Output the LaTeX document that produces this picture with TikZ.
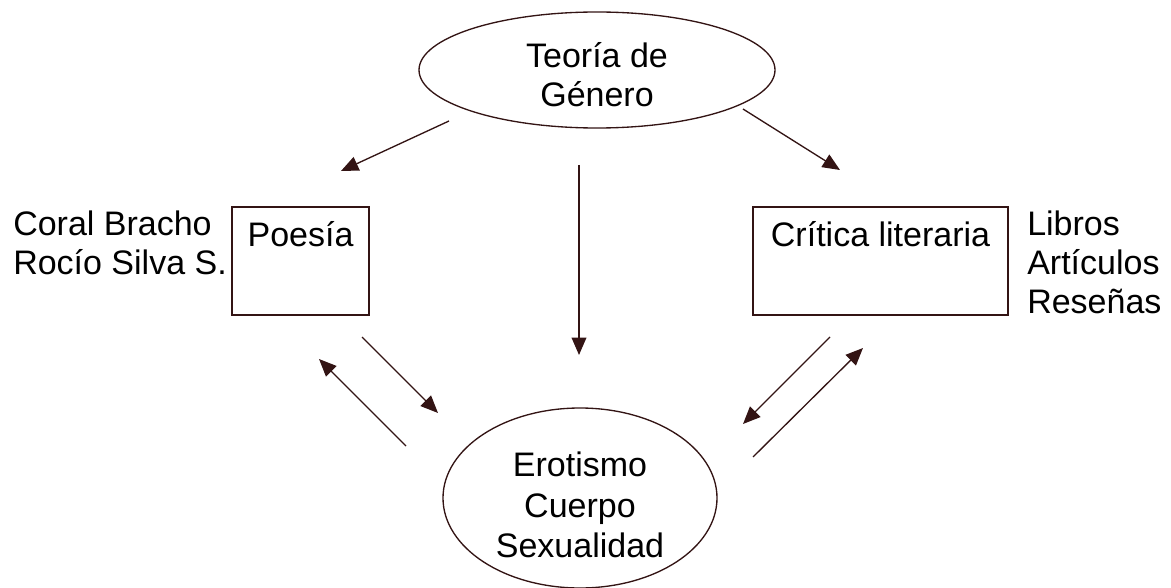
\documentclass[tikz,border=0pt]{standalone}
\usepackage{fontspec}
\setmainfont{Liberation Sans}
\usetikzlibrary{shapes.geometric, arrows.meta}
\definecolor{linebrown}{RGB}{51,20,20}
\tikzstyle{ovalo} = [ellipse, draw=linebrown, line width=1pt, inner sep=0pt]
\tikzstyle{caja} = [rectangle, draw=linebrown, line width=1pt, minimum height=81pt, inner sep=0pt]
\tikzstyle{texto} = [inner sep=0pt, anchor=base west]
\tikzstyle{titulo} = [inner sep=0pt, anchor=base]
\tikzstyle{bloque} = [inner sep=0pt, align=center]
\tikzstyle{arrow} = [line width=1pt, draw=linebrown, -{Triangle[length=13pt, width=11pt]}]

\begin{document}
\begin{tikzpicture}
[x=0.75pt, y=-0.75pt, font=\fontsize{25.5pt}{29.5pt}\selectfont]
\useasboundingbox (0,0) rectangle (1171,588);

\node (teoria) [ovalo, minimum width=267pt, minimum height=87pt] at (597,70) {};
\node (teoriatxt) [bloque] at (597,74.5) {Teoría de\\Género};
\node (poesia) [caja, minimum width=102.75pt] at (300.5,261) {};
\node (poesiatxt) [titulo] at (300.5,247) {Poesía};
\node (critica) [caja, minimum width=191.25pt] at (880.5,261) {};
\node (criticatxt) [titulo] at (880.5,247) {Crítica literaria};
\node (erotismo) [ovalo, minimum width=205.5pt, minimum height=135pt] at (580,498) {};
\node (erotismotxt) [bloque, font=\fontsize{25.5pt}{30.5pt}\selectfont] at (580,505) {Erotismo\\Cuerpo\\Sexualidad};

\node (coral) [texto] at (13,235) {Coral Bracho};
\node (rocio) [texto] at (13,274) {Rocío Silva S.};
\node (libros) [texto] at (1027,235) {Libros};
\node (articulos) [texto] at (1027,274) {Artículos};
\node (resenas) [texto] at (1027,313) {Reseñas};

% arrow ends
\coordinate (tl1) at (449,121);
\coordinate (tl2) at (341,171);
\coordinate (tr1) at (743,109);
\coordinate (tr2) at (840,170);
\coordinate (v1) at (579,165);
\coordinate (v2) at (579,355);
\coordinate (pl1) at (362,337);
\coordinate (pl2) at (438,413);
\coordinate (pu1) at (406,446);
\coordinate (pu2) at (319,359);
\coordinate (cl1) at (830,337);
\coordinate (cl2) at (743,424);
\coordinate (cu1) at (753,457);
\coordinate (cu2) at (863,348);

\draw [arrow] (tl1) -- (tl2);
\draw [arrow] (tr1) -- (tr2);
\draw [arrow] (v1) -- (v2);
\draw [arrow] (pl1) -- (pl2);
\draw [arrow] (pu1) -- (pu2);
\draw [arrow] (cl1) -- (cl2);
\draw [arrow] (cu1) -- (cu2);

\end{tikzpicture}
\end{document}
